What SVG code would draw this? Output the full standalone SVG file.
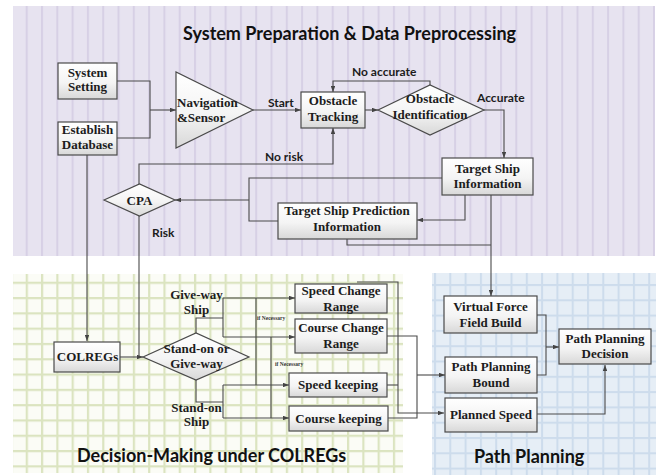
<svg xmlns="http://www.w3.org/2000/svg" width="660" height="475" viewBox="0 0 660 475">
<defs>
<pattern id="pStripe" x="25.7" y="0" width="15.3" height="20" patternUnits="userSpaceOnUse">
<rect x="0" y="0" width="15.3" height="20" fill="#e7e3f0"/>
<rect x="0" y="0" width="2" height="20" fill="#d7d0e5"/>
</pattern>
<pattern id="pGreen" x="25.7" y="266.4" width="15.3" height="15.3" patternUnits="userSpaceOnUse">
<rect x="0" y="0" width="15.3" height="15.3" fill="#fbfcf6"/>
<rect x="0" y="0" width="2.2" height="15.3" fill="#dbe4c0"/>
<rect x="0" y="0" width="15.3" height="2.2" fill="#dbe4c0"/>
</pattern>
<pattern id="pBlue" x="434" y="284" width="15.3" height="15.3" patternUnits="userSpaceOnUse">
<rect x="0" y="0" width="15.3" height="15.3" fill="#e6eef6"/>
<rect x="0" y="0" width="2" height="15.3" fill="#cddcec"/>
<rect x="0" y="0" width="15.3" height="2" fill="#cddcec"/>
</pattern>
<linearGradient id="gBox" x1="0" y1="0" x2="0" y2="1">
<stop offset="0" stop-color="#ffffff"/>
<stop offset="0.55" stop-color="#f4f4f4"/>
<stop offset="1" stop-color="#d8d8d8"/>
</linearGradient>
<marker id="arr" viewBox="0 0 8 6" refX="8" refY="3" markerWidth="6" markerHeight="4.5" orient="auto" markerUnits="userSpaceOnUse">
<path d="M0,0 L8,3 L0,6 Z" fill="#444"/>
</marker>
</defs>
<style>
.box{fill:url(#gBox);stroke:#4a4a4a;stroke-width:1.2}
.t{font-family:"Liberation Serif","Times New Roman",serif;font-weight:bold;font-size:13px;fill:#1c1c1c;text-anchor:middle}
.lbl{font-family:Lato,"Liberation Sans",sans-serif;font-weight:bold;font-size:12px;fill:#1c1c1c}
.ttl{font-family:Lato,"Liberation Sans",sans-serif;font-weight:bold;font-size:18px;fill:#111}
.sm{font-family:"Liberation Serif","Times New Roman",serif;font-weight:bold;font-size:5.5px;fill:#333}
.c{fill:none;stroke:#4a4a4a;stroke-width:1.1}
.a{fill:none;stroke:#4a4a4a;stroke-width:1.1;marker-end:url(#arr)}
</style>

<g id="panels">
<rect x="13" y="6" width="642" height="250" fill="url(#pStripe)"/>
<rect x="13" y="274" width="390" height="199" fill="url(#pGreen)"/>
<rect x="432" y="273" width="224" height="202" fill="url(#pBlue)"/>
<text class="ttl" x="183" y="40">System Preparation &amp; Data Preprocessing</text>
<text class="ttl" x="77" y="462">Decision-Making under COLREGs</text>
<text class="ttl" x="474" y="463">Path Planning</text>
</g>

<g id="connectors">
<path class="c" d="M117,81 H150 V138 H117"/>
<path class="a" d="M150,110 H176"/>
<path class="a" d="M253,110 H301"/>
<path class="a" d="M365,110 H378"/>
<path class="a" d="M430,85 V81 H333 V92"/>
<path class="a" d="M484,110 H504 V158"/>
<path class="a" d="M465,195 V220 H417"/>
<path class="c" d="M442,178 H249 V221 H278"/>
<path class="a" d="M249,200 H175"/>
<path class="a" d="M139,184 V164 H333 V128"/>
<path class="c" d="M139,216 V357"/>
<path class="a" d="M120,357 H143"/>
<path class="a" d="M87,155 V341"/>
<path class="c" d="M196,333 V318 H223"/>
<path class="c" d="M223,298 V337"/>
<path class="a" d="M223,298 H295"/>
<path class="a" d="M223,337 H295"/>
<path class="c" d="M196,380 V402 H223"/>
<path class="c" d="M223,385 V418"/>
<path class="a" d="M223,385 H289"/>
<path class="a" d="M223,418 H289"/>
<path class="c" d="M256,298 V385"/>
<path class="c" d="M271,337 V418"/>
<path class="a" d="M357,282 H398 V413 H444"/>
<path class="c" d="M387,385 H398"/>
<path class="c" d="M387,336 H417 V418 H388"/>
<path class="a" d="M417,375 H445"/>
<path class="a" d="M491,195 V296"/>
<path class="c" d="M347,239 V245 H491"/>
<path class="c" d="M537,315 H546 V375 H537"/>
<path class="a" d="M546,347 H559"/>
<path class="a" d="M537,414 H605 V365"/>
<text class="lbl" x="268" y="107">Start</text>
<text class="lbl" x="352" y="76">No accurate</text>
<text class="lbl" x="477" y="102">Accurate</text>
<text class="lbl" x="265" y="161">No risk</text>
<text class="lbl" x="152" y="237">Risk</text>
<text class="sm" x="257" y="320">if Necessary</text>
<text class="sm" x="275" y="366">if Necessary</text>
</g>

<g id="system-setting">
<rect class="box" x="58" y="63" width="59" height="36"/>
<text class="t" x="87.5" y="77">System</text>
<text class="t" x="87.5" y="91">Setting</text>
</g>
<g id="establish-database">
<rect class="box" x="58" y="122" width="59" height="33"/>
<text class="t" x="87.5" y="134">Establish</text>
<text class="t" x="87.5" y="149">Database</text>
</g>
<g id="navigation-sensor">
<polygon class="box" points="176,72 176,148 253,110"/>
<text class="t" x="177" y="107" style="text-anchor:start">Navigation</text>
<text class="t" x="177" y="122" style="text-anchor:start">&amp;Sensor</text>
</g>
<g id="obstacle-tracking">
<rect class="box" x="301" y="92" width="64" height="36"/>
<text class="t" x="333" y="105">Obstacle</text>
<text class="t" x="333" y="121">Tracking</text>
</g>
<g id="obstacle-identification">
<polygon class="box" points="378,110 430,85 484,110 430,135"/>
<text class="t" x="430" y="103">Obstacle</text>
<text class="t" x="430" y="119">Identification</text>
</g>
<g id="target-ship-information">
<rect class="box" x="442" y="158" width="91" height="37"/>
<text class="t" x="487.5" y="173">Target Ship</text>
<text class="t" x="487.5" y="188">Information</text>
</g>
<g id="target-ship-prediction">
<rect class="box" x="278" y="203" width="139" height="36"/>
<text class="t" x="347" y="215">Target Ship Prediction</text>
<text class="t" x="347" y="231">Information</text>
</g>
<g id="cpa">
<polygon class="box" points="104,200 139.5,184 175,200 139.5,216"/>
<text class="t" x="139.5" y="204.5">CPA</text>
</g>
<g id="colregs">
<rect class="box" x="54" y="342" width="66" height="30"/>
<text class="t" x="87.5" y="361">COLREGs</text>
</g>
<g id="stand-on-give-way">
<polygon class="box" points="143,357 196,333 249,357 196,380"/>
<text class="t" x="196.5" y="353">Stand-on or</text>
<text class="t" x="196.5" y="368">Give-way</text>
</g>
<g id="give-way-ship">
<text class="t" x="196.5" y="299">Give-way</text>
<text class="t" x="196.5" y="314">Ship</text>
</g>
<g id="stand-on-ship">
<text class="t" x="196.5" y="412">Stand-on</text>
<text class="t" x="196.5" y="426">Ship</text>
</g>
<g id="speed-change-range">
<rect class="box" x="295" y="284" width="92" height="29"/>
<text class="t" x="341" y="295">Speed Change</text>
<text class="t" x="341" y="311">Range</text>
</g>
<g id="course-change-range">
<rect class="box" x="295" y="319" width="92" height="34"/>
<text class="t" x="341" y="332">Course Change</text>
<text class="t" x="341" y="348">Range</text>
</g>
<g id="speed-keeping">
<rect class="box" x="289" y="373" width="98" height="24"/>
<text class="t" x="338" y="389">Speed keeping</text>
</g>
<g id="course-keeping">
<rect class="box" x="289" y="406" width="99" height="25"/>
<text class="t" x="338.5" y="423">Course keeping</text>
</g>
<g id="virtual-force-field">
<rect class="box" x="444" y="296" width="93" height="37"/>
<text class="t" x="490.5" y="311">Virtual Force</text>
<text class="t" x="490.5" y="327">Field Build</text>
</g>
<g id="path-planning-bound">
<rect class="box" x="445" y="357" width="92" height="36"/>
<text class="t" x="491" y="371">Path Planning</text>
<text class="t" x="491" y="387">Bound</text>
</g>
<g id="planned-speed">
<rect class="box" x="445" y="398" width="92" height="34"/>
<text class="t" x="491" y="419">Planned Speed</text>
</g>
<g id="path-planning-decision">
<rect class="box" x="559" y="329" width="92" height="35"/>
<text class="t" x="605" y="343">Path Planning</text>
<text class="t" x="605" y="358">Decision</text>
</g>
</svg>
